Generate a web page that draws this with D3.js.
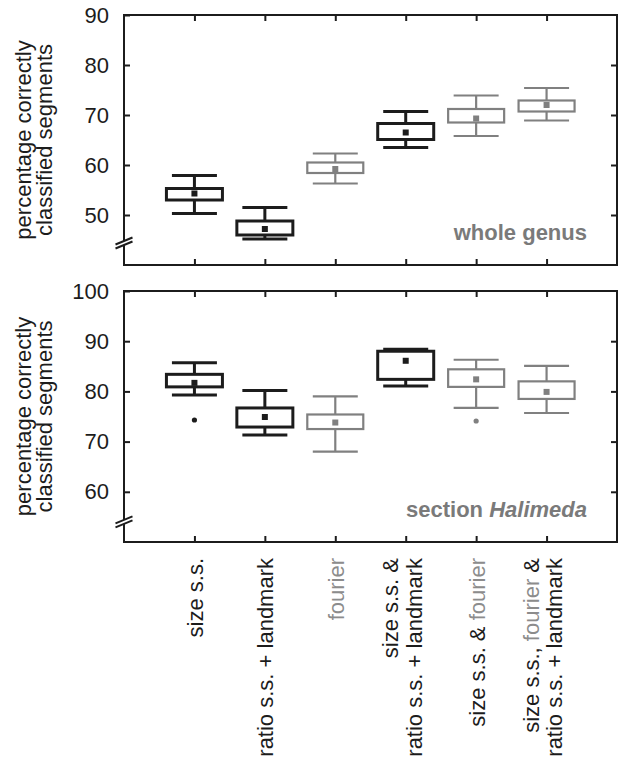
<!DOCTYPE html>
<html>
<head>
<meta charset="utf-8">
<script src="https://cdn.jsdelivr.net/npm/d3@7"></script>
<style>
  body { margin: 0; background: #fff; }
  svg text { font-family: "Liberation Sans", Arial, sans-serif; }
</style>
</head>
<body>
<div class="chartDiv"></div>
<script>
// categories (x axis), "\n" splits a label into two lines
var categories = [
  "size s.s.",
  "ratio s.s. + landmark",
  "fourier",
  "size s.s. &\nratio s.s. + landmark",
  "size s.s. & fourier",
  "size s.s., fourier &\nratio s.s. + landmark"
];

// whole genus panel
var genusTicks = [50, 60, 70, 80, 90];
var genusWhiskerLo = [50.3, 45.2, 56.3, 63.5, 65.8, 68.9];
var genusBoxLo     = [53.0, 46.0, 58.4, 65.1, 68.5, 70.7];
var genusMean      = [54.3, 47.2, 59.2, 66.5, 69.3, 72.0];
var genusBoxHi     = [55.3, 48.8, 60.5, 68.3, 71.2, 72.9];
var genusWhiskerHi = [57.9, 51.5, 62.3, 70.7, 73.9, 75.4];
var genusOutliers  = [[], [], [], [], [], []];

// section Halimeda panel
var halTicks = [60, 70, 80, 90, 100];
var halWhiskerLo = [79.3, 71.3, 68.0, 81.1, 76.7, 75.7];
var halBoxLo     = [80.9, 72.9, 72.5, 82.4, 80.9, 78.5];
var halMean      = [81.7, 74.9, 73.8, 86.1, 82.4, 79.9];
var halBoxHi     = [83.4, 76.7, 75.4, 88.0, 84.4, 82.0];
var halWhiskerHi = [85.7, 80.2, 79.0, 88.4, 86.3, 85.1];
var halOutliers  = [[74.3], [], [], [], [74.1], []];

var black = "#1c1c1c", grey = "#808080";
// fourier-based methods are drawn grey
var boxColor = [black, black, grey, black, grey, grey];

var width = 620, height = 765;
var left = 124, right = 617;

var svg = d3.select('div.chartDiv').append('svg')
  .attr('width', width).attr('height', height);

var x = d3.scalePoint().domain(categories).range([left, right]).padding(1);

function makeRows(lo, blo, m, bhi, hi, outl) {
  return categories.map(function(c, i) {
    return {cat: c, i: i, wlo: lo[i], blo: blo[i], mean: m[i], bhi: bhi[i], whi: hi[i], out: outl[i]};
  });
}

var panels = [
  {top: 15, bottom: 265, domain: [40, 90], ticks: genusTicks, brk: 44.4,
   rows: makeRows(genusWhiskerLo, genusBoxLo, genusMean, genusBoxHi, genusWhiskerHi, genusOutliers),
   title: [["whole genus", "normal"]]},
  {top: 291, bottom: 542, domain: [50, 100], ticks: halTicks, brk: 54,
   rows: makeRows(halWhiskerLo, halBoxLo, halMean, halBoxHi, halWhiskerHi, halOutliers),
   title: [["section ", "normal"], ["Halimeda", "italic"]]}
];

panels.forEach(function(p) {
  var y = d3.scaleLinear().domain(p.domain).range([p.bottom, p.top]);
  var g = svg.append('g');

  // frame ticks, all pointing inward
  var axL = g.append('g').attr('transform', 'translate(' + left + ',0)')
    .call(d3.axisLeft(y).tickValues(p.ticks).tickSizeInner(-6).tickSizeOuter(0).tickPadding(15));
  axL.selectAll('text').attr('font-size', 22).attr('fill', '#1c1c1c');
  g.append('g').attr('transform', 'translate(' + right + ',0)')
    .call(d3.axisRight(y).tickValues(p.ticks.slice(0, -1)).tickSizeInner(-6).tickSizeOuter(0).tickFormat(''));
  g.append('g').attr('transform', 'translate(0,' + p.top + ')')
    .call(d3.axisTop(x).tickSizeInner(-6).tickSizeOuter(0).tickFormat(''));
  g.append('g').attr('transform', 'translate(0,' + p.bottom + ')')
    .call(d3.axisBottom(x).tickSizeInner(-6).tickSizeOuter(0).tickFormat(''));
  g.selectAll('.domain').remove();
  g.selectAll('.tick line').attr('stroke', '#1c1c1c').attr('stroke-width', 2);

  g.append('rect').attr('x', left).attr('y', p.top)
    .attr('width', right - left).attr('height', p.bottom - p.top)
    .attr('fill', 'none').attr('stroke', '#1c1c1c').attr('stroke-width', 2);

  // axis break on the left edge
  var by = y(p.brk);
  var pts = [[left - 8.5, by + 1.5], [left + 8.5, by - 5.5], [left + 8.5, by - 1.5], [left - 8.5, by + 5.5]];
  g.append('polygon').attr('points', pts.map(function(d) { return d.join(','); }).join(' '))
    .attr('fill', '#fff');
  [0, 4].forEach(function(o) {
    g.append('line').attr('x1', left - 8.5).attr('y1', by + 1.5 + o)
      .attr('x2', left + 8.5).attr('y2', by - 5.5 + o)
      .attr('stroke', '#1c1c1c').attr('stroke-width', 2);
  });

  // y axis title
  var yt = g.append('text').attr('font-size', 22).attr('fill', '#1c1c1c')
    .attr('text-anchor', 'middle')
    .attr('transform', 'translate(31,' + ((p.top + p.bottom) / 2) + ') rotate(-90)');
  yt.append('tspan').attr('x', 0).attr('dy', 0).text('percentage correctly');
  yt.append('tspan').attr('x', 0).attr('dy', '0.95em').text('classified segments');

  // boxes
  var boxW = 56, capW = 45;
  var b = g.selectAll('g.box').data(p.rows).enter().append('g').attr('class', 'box')
    .attr('stroke', function(d) { return boxColor[d.i]; })
    .attr('stroke-width', function(d) { return boxColor[d.i] == black ? 3 : 2.2; });
  b.append('line').attr('x1', function(d) { return x(d.cat); }).attr('x2', function(d) { return x(d.cat); })
    .attr('y1', function(d) { return y(d.wlo); }).attr('y2', function(d) { return y(d.blo); });
  b.append('line').attr('x1', function(d) { return x(d.cat); }).attr('x2', function(d) { return x(d.cat); })
    .attr('y1', function(d) { return y(d.bhi); }).attr('y2', function(d) { return y(d.whi); });
  b.append('line').attr('x1', function(d) { return x(d.cat) - capW / 2; }).attr('x2', function(d) { return x(d.cat) + capW / 2; })
    .attr('y1', function(d) { return y(d.wlo); }).attr('y2', function(d) { return y(d.wlo); });
  b.append('line').attr('x1', function(d) { return x(d.cat) - capW / 2; }).attr('x2', function(d) { return x(d.cat) + capW / 2; })
    .attr('y1', function(d) { return y(d.whi); }).attr('y2', function(d) { return y(d.whi); });
  b.append('rect').attr('x', function(d) { return x(d.cat) - boxW / 2; }).attr('width', boxW)
    .attr('y', function(d) { return y(d.bhi); }).attr('height', function(d) { return y(d.blo) - y(d.bhi); })
    .attr('fill', '#fff');
  b.append('rect').attr('x', function(d) { return x(d.cat) - 3; }).attr('width', 6)
    .attr('y', function(d) { return y(d.mean) - 3; }).attr('height', 6)
    .attr('stroke', 'none').attr('fill', function(d) { return boxColor[d.i]; });
  b.selectAll('circle').data(function(d) { return d.out.map(function(v) { return {cat: d.cat, v: v, i: d.i}; }); })
    .enter().append('circle')
    .attr('cx', function(d) { return x(d.cat); }).attr('cy', function(d) { return y(d.v); })
    .attr('r', 2.6).attr('stroke', 'none').attr('fill', function(d) { return boxColor[d.i]; });

  // panel title
  var t = g.append('text').attr('x', 587).attr('y', p.bottom - 25)
    .attr('text-anchor', 'end').attr('font-size', 22).attr('font-weight', 'bold').attr('fill', '#7a7a7a');
  p.title.forEach(function(s) { t.append('tspan').attr('font-style', s[1]).text(s[0]); });
});

// category labels under the lower panel
var lab = svg.append('g');
categories.forEach(function(c) {
  var lines = c.split('\n'), n = lines.length;
  var t = lab.append('text').attr('font-size', 22).attr('text-anchor', 'end')
    .attr('transform', 'translate(' + x(c) + ',558) rotate(-90)');
  lines.forEach(function(line, j) {
    var dy = 0.38 + (j - (n - 1) / 2) * 1.08 - (n - 1) * 0.2;
    var ln = t.append('tspan').attr('x', 0).attr('y', 0).attr('dy', dy + 'em');
    line.split(/(fourier)/).filter(function(s) { return s.length; }).forEach(function(s) {
      ln.append('tspan').attr('fill', s == 'fourier' ? '#8c8c8c' : '#1c1c1c').text(s);
    });
  });
});
</script>
</body>
</html>
